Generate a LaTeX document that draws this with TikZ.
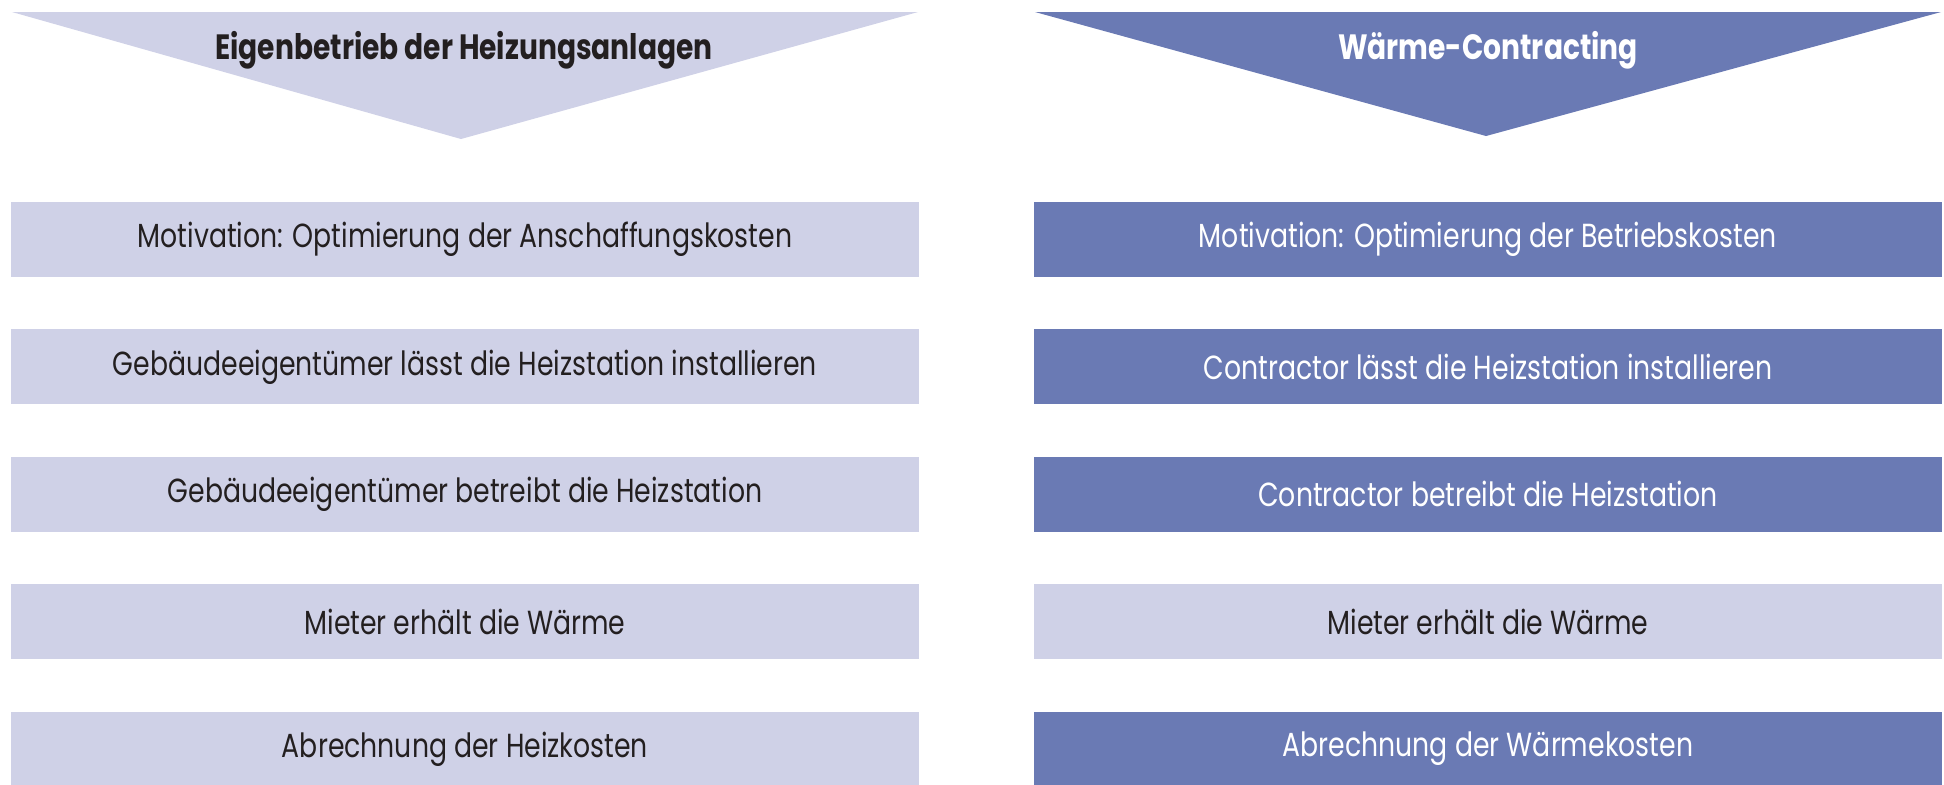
\documentclass[tikz,border=0pt]{standalone}
\usepackage{fontspec}
\setmainfont{Poppins}[FakeStretch=0.8]
\usepackage{tikz}
\usetikzlibrary{positioning}
\definecolor{lavlight}{HTML}{CFD1E7}
\definecolor{lavdark}{HTML}{6A7AB4}
\definecolor{inktext}{HTML}{231F20}
\tikzset{
	rowbox/.style={minimum width=9.08cm, minimum height=0.75cm, inner sep=0pt, font=\fontsize{9.5}{11}\selectfont}
}
\tikzset{
	lightbox/.style={rowbox, fill=lavlight, text=inktext},
	darkbox/.style={rowbox, fill=lavdark, text=white}
}
\begin{document}
\begin{tikzpicture}[x=1cm,y=1cm]
      \useasboundingbox (0,0) rectangle (19.44,-7.84);
      % two downward heads
      \fill[lavlight] (0.12,-0.12) -- (9.18,-0.12) -- (4.61,-1.39) -- cycle;
      \fill[lavdark] (10.35,-0.12) -- (19.41,-0.12) -- (14.86,-1.36) -- cycle;
      \node[font=\fontsize{10}{12}\selectfont\bfseries, text=inktext] (headleft) at (4.64,-0.50) {Eigenbetrieb der Heizungsanlagen};
      \node[font=\fontsize{10}{12}\selectfont\bfseries, text=white] (headright) at (14.88,-0.50) {Wärme-Contracting};
      % left column
      \node[lightbox] (l1) at (4.65,-2.395) {Motivation: Optimierung der Anschaffungskosten};
      \node[lightbox, below=0.51cm of l1] (l2) {Gebäudeeigentümer lässt die Heizstation installieren};
      \node[lightbox, below=0.51cm of l2] (l3) {Gebäudeeigentümer betreibt die Heizstation};
      \node[lightbox, below=0.51cm of l3] (l4) {Mieter erhält die Wärme};
      \node[lightbox, below=0.51cm of l4] (l5) {Abrechnung der Heizkosten};
      % right column
      \node[darkbox] (r1) at (14.88,-2.395) {Motivation: Optimierung der Betriebskosten};
      \node[darkbox, below=0.51cm of r1] (r2) {Contractor lässt die Heizstation installieren};
      \node[darkbox, below=0.51cm of r2] (r3) {Contractor betreibt die Heizstation};
      \node[lightbox, below=0.51cm of r3] (r4) {Mieter erhält die Wärme};
      \node[darkbox, below=0.51cm of r4] (r5) {Abrechnung der Wärmekosten};
    \end{tikzpicture}
\end{document}
